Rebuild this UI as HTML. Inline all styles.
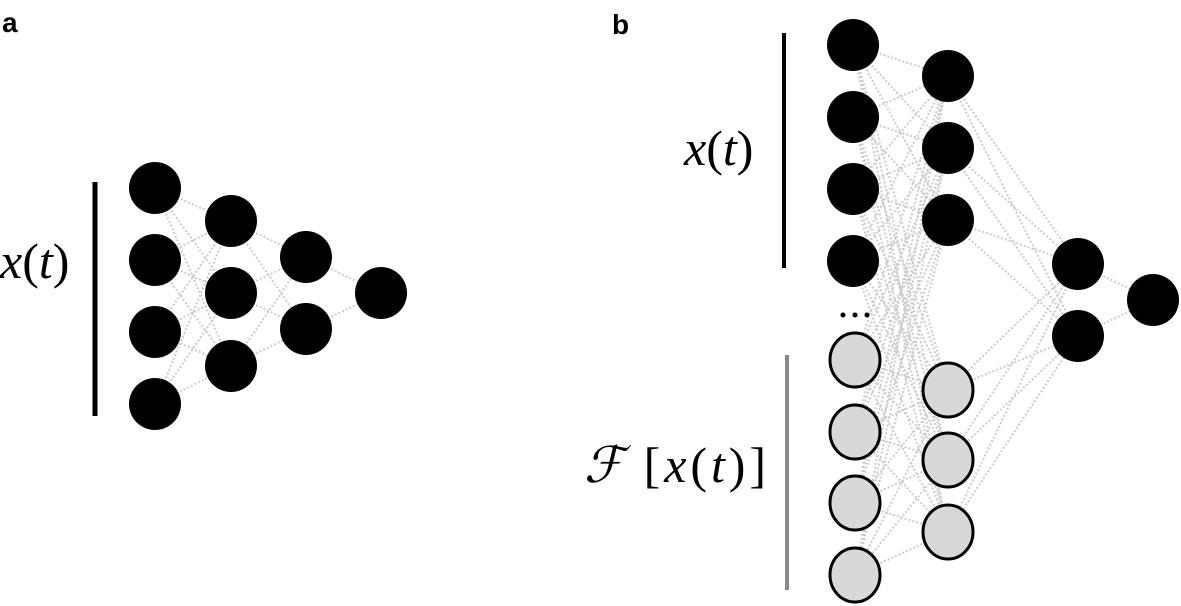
<!DOCTYPE html>
<html><head><meta charset="utf-8"><style>
html,body{margin:0;padding:0;background:#fff;width:1181px;height:606px;overflow:hidden}
svg{display:block}
.m{font-family:"Liberation Serif","DejaVu Serif",serif;}
.l{font-family:"Liberation Sans",sans-serif;font-weight:bold;font-size:28px}
</style></head><body>
<svg width="1181" height="606" xmlns="http://www.w3.org/2000/svg">
<g stroke="#cccccc" stroke-width="2" stroke-dasharray="2,2" fill="none" id="edges"></g>
<text x="2" y="32" class="l">a</text>
<text x="612" y="34" class="l">b</text>
<line x1="95" y1="182" x2="95" y2="416" stroke="#000" stroke-width="5"/>
<line x1="784" y1="33" x2="784" y2="268" stroke="#000" stroke-width="4"/>
<line x1="787" y1="355" x2="787" y2="590" stroke="#888" stroke-width="4"/>
<text x="0" y="278" class="m" font-size="50"><tspan font-style="italic">x</tspan>(<tspan font-style="italic">t</tspan>)</text>
<text x="684" y="165" class="m" font-size="50"><tspan font-style="italic">x</tspan>(<tspan font-style="italic">t</tspan>)</text>
<text x="584" y="482" class="m" font-size="50" textLength="182" lengthAdjust="spacing"><tspan font-style="italic">ℱ</tspan> [<tspan font-style="italic">x</tspan>(<tspan font-style="italic">t</tspan>)]</text>
<circle cx="843" cy="315" r="2.5" fill="#000"/><circle cx="855" cy="315" r="2.5" fill="#000"/><circle cx="867" cy="315" r="2.5" fill="#000"/>
<g id="nodes"></g>
</svg>
<script>
var NS="http://www.w3.org/2000/svg";
var E=document.getElementById("edges"),N=document.getElementById("nodes");
function layers(L){
 for(var i=0;i<L.length-1;i++)for(var a of L[i])for(var b of L[i+1]){
  var l=document.createElementNS(NS,"line");l.setAttribute("x1",a[0]);l.setAttribute("y1",a[1]);l.setAttribute("x2",b[0]);l.setAttribute("y2",b[1]);E.appendChild(l);}
 for(var Ly of L)for(var p of Ly){
  var c=document.createElementNS(NS,"ellipse");c.setAttribute("cx",p[0]);c.setAttribute("cy",p[1]);
  if(p[2]){c.setAttribute("rx",25);c.setAttribute("ry",27);c.setAttribute("fill","#d8d8d8");c.setAttribute("stroke","#000");c.setAttribute("stroke-width",3);}
  else{c.setAttribute("rx",26);c.setAttribute("ry",26);c.setAttribute("fill","#000");}
  N.appendChild(c);}
}
layers([[[155,188],[155,260],[155,332],[155,404]],[[231,221],[231,293],[231,366]],[[306,257],[306,329]],[[381,293]]]);
layers([[[853,45],[853,117],[853,189],[853,261],[855,360,1],[855,432,1],[855,503,1],[855,575,1]],
 [[948,76],[948,148],[948,220],[948,390,1],[948,460,1],[948,532,1]],
 [[1078,264],[1078,336]],[[1153,300]]]);
</script>
</body></html>
